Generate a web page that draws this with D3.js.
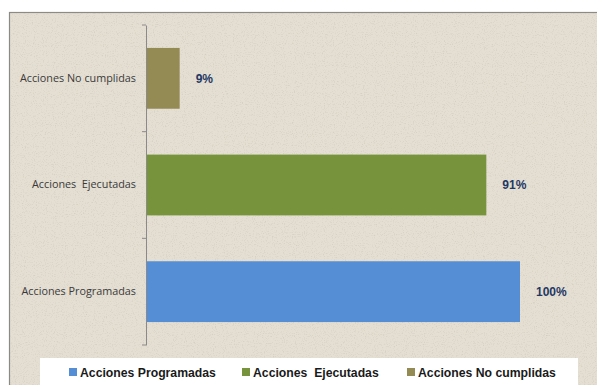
<!DOCTYPE html>
<html>
<head>
<meta charset="utf-8">
<script src="https://cdn.jsdelivr.net/npm/d3@7"></script>
<style>
  html, body { margin: 0; padding: 0; background: #ffffff; }
  svg { display: block; }
</style>
</head>
<body>
<svg id="chart" width="597" height="385"></svg>
<script>
// Categories, listed top to bottom as drawn
const categories = ["Acciones No cumplidas", "Acciones  Ejecutadas", "Acciones Programadas"];
const values = [9, 91, 100];
const valueLabels = ["9%", "91%", "100%"];
const colors = ["#948a54", "#77933c", "#558ed5"];
// Legend order
const legendNames = ["Acciones Programadas", "Acciones  Ejecutadas", "Acciones No cumplidas"];
const legendColors = ["#558ed5", "#77933c", "#948a54"];

const svg = d3.select("#chart");

// Paper-like speckled background
const defs = svg.append("defs");
const f = defs.append("filter").attr("id", "speckle").attr("x", 0).attr("y", 0).attr("width", "100%").attr("height", "100%");
f.append("feTurbulence").attr("type", "fractalNoise").attr("baseFrequency", 0.9).attr("numOctaves", 2).attr("seed", 7).attr("result", "noise");
f.append("feColorMatrix").attr("in", "noise").attr("type", "matrix")
  .attr("values", "0 0 0 0 0.55  0 0 0 0 0.50  0 0 0 0 0.42  0 0 0 -2.6 1.25")
  .attr("result", "dots");
f.append("feComposite").attr("in", "dots").attr("in2", "SourceGraphic").attr("operator", "in");

svg.append("rect").attr("x", 9.5).attr("y", 12.5).attr("width", 600).attr("height", 380)
  .attr("fill", "#e5dfd3").attr("stroke", "#8c8a86").attr("stroke-width", 1.2);
svg.append("rect").attr("x", 10).attr("y", 13).attr("width", 590).attr("height", 375)
  .attr("fill", "#e5dfd3").attr("filter", "url(#speckle)").attr("opacity", 0.5);

const plot = { left: 146, right: 520, top: 25, bottom: 345 };

const x = d3.scaleLinear().domain([0, 100]).range([plot.left, plot.right]);
const y = d3.scaleBand().domain(categories).range([plot.top, plot.bottom]).paddingInner(0.43).paddingOuter(0.215);

// Bars
svg.append("g").selectAll("rect").data(categories).join("rect")
  .attr("x", x(0))
  .attr("y", d => y(d))
  .attr("width", (d, i) => x(values[i]) - x(0))
  .attr("height", y.bandwidth())
  .attr("fill", (d, i) => colors[i]);

// Category axis
const yAxis = d3.axisLeft(y).tickSize(0).tickPadding(10);
const gy = svg.append("g").attr("transform", `translate(${plot.left},0)`).call(yAxis);
gy.select(".domain").attr("stroke", "#8a8a8a").attr("stroke-width", 1);
gy.selectAll("text")
  .attr("font-family", "'Open Sans', 'Noto Sans', sans-serif")
  .attr("font-size", 10.8)
  .attr("fill", "#3a3a3a")
  .attr("xml:space", "preserve")
  .style("white-space", "pre");

// Small tick marks at the band boundaries
const bounds = [plot.top, ...categories.slice(1).map(c => y(c) - y.step() * y.paddingInner() / 2), plot.bottom];
svg.append("g").selectAll("line").data(bounds).join("line")
  .attr("x1", plot.left - 4).attr("x2", plot.left)
  .attr("y1", d => d).attr("y2", d => d)
  .attr("stroke", "#8a8a8a");

// Value labels
svg.append("g").selectAll("text").data(categories).join("text")
  .attr("x", (d, i) => x(values[i]) + 16)
  .attr("y", d => y(d) + y.bandwidth() / 2)
  .attr("dy", "0.35em")
  .attr("font-family", "'Liberation Sans', Arial, sans-serif")
  .attr("font-weight", "bold")
  .attr("font-size", 12)
  .attr("fill", "#1f3864")
  .text((d, i) => valueLabels[i]);

// Legend
const legend = svg.append("g");
legend.append("rect").attr("x", 40).attr("y", 358).attr("width", 538).attr("height", 30).attr("fill", "#ffffff");
const legendX = [69, 242, 407];
const items = legend.selectAll("g").data(legendNames).join("g")
  .attr("transform", (d, i) => `translate(${legendX[i]},372)`);
items.append("rect").attr("x", 0).attr("y", -4).attr("width", 8).attr("height", 8)
  .attr("fill", (d, i) => legendColors[i]);
// Slightly condensed legend lettering
items.append("text")
  .attr("transform", "translate(11,0) scale(0.9,1)")
  .attr("dy", "0.36em")
  .attr("font-family", "'Liberation Sans', Arial, sans-serif")
  .attr("font-weight", "bold")
  .attr("font-size", 13.6)
  .attr("fill", "#1a1a1a")
  .style("white-space", "pre")
  .attr("xml:space", "preserve")
  .text(d => d);
</script>
</body>
</html>
